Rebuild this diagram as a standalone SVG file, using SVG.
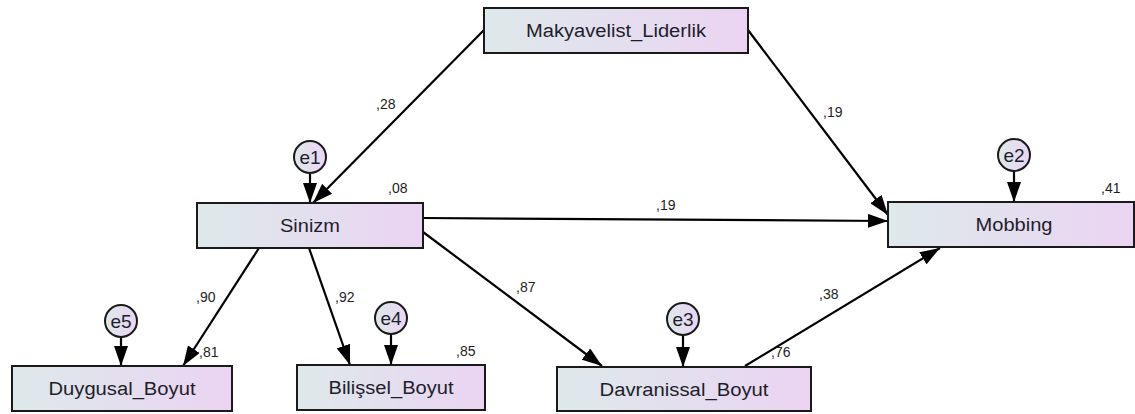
<svg xmlns="http://www.w3.org/2000/svg" width="1135" height="414" viewBox="0 0 1135 414">
<defs>
<linearGradient id="g" x1="0" y1="0" x2="1" y2="0">
<stop offset="0" stop-color="#dde9ea"/>
<stop offset="1" stop-color="#ebd4f3"/>
</linearGradient>
<marker id="ah" markerWidth="20" markerHeight="14" refX="20" refY="7" orient="auto" markerUnits="userSpaceOnUse">
<path d="M0,0 L20,7 L0,14 z" fill="#000"/>
</marker>
</defs>
<style>
.box{fill:url(#g);stroke:#1a1a1a;stroke-width:2}
.err{fill:url(#g);stroke:#1a1a1a;stroke-width:2}
.lbl{font-family:"Liberation Sans",Arial,sans-serif;font-size:18px;fill:#1e1e2a;text-anchor:middle}
.elbl{font-family:"Liberation Sans",Arial,sans-serif;font-size:19px;fill:#1e1e2a;text-anchor:middle}
.num{font-family:"Liberation Sans",Arial,sans-serif;font-size:14px;fill:#1e1e1e}
.c{stroke:#000;stroke-width:2.2;fill:none;marker-end:url(#ah)}
</style>
<rect width="1135" height="414" fill="#fff"/>
<g id="connectors">
<line class="c" x1="484" y1="30" x2="313" y2="203"/>
<line class="c" x1="748" y1="30" x2="888" y2="215"/>
<line class="c" x1="423" y1="218" x2="888" y2="221"/>
<line class="c" x1="259" y1="248" x2="183" y2="366"/>
<line class="c" x1="309" y1="248" x2="350" y2="365"/>
<line class="c" x1="423" y1="232" x2="602" y2="366"/>
<line class="c" x1="745" y1="366" x2="940" y2="248"/>
<line class="c" x1="310" y1="173" x2="310" y2="203"/>
<line class="c" x1="1014" y1="171" x2="1014" y2="202"/>
<line class="c" x1="683" y1="335" x2="683" y2="367"/>
<line class="c" x1="391" y1="334" x2="391" y2="365"/>
<line class="c" x1="121" y1="337" x2="121" y2="366"/>
<text class="num" x="376" y="109">,28</text>
<text class="num" x="823" y="117">,19</text>
<text class="num" x="656" y="210">,19</text>
<text class="num" x="196" y="302">,90</text>
<text class="num" x="335" y="302">,92</text>
<text class="num" x="516" y="292">,87</text>
<text class="num" x="819" y="299">,38</text>
</g>
<g id="makyavelist">
<rect class="box" x="484" y="8" width="264" height="45"/>
<text class="lbl" x="616" y="37" textLength="180" lengthAdjust="spacingAndGlyphs">Makyavelist_Liderlik</text>
</g>
<g id="sinizm">
<rect class="box" x="197" y="203" width="226" height="45"/>
<text class="lbl" x="310" y="232" textLength="60" lengthAdjust="spacingAndGlyphs">Sinizm</text>
<text class="num" x="388" y="193">,08</text>
</g>
<g id="mobbing">
<rect class="box" x="888" y="202" width="246" height="45"/>
<text class="lbl" x="1014" y="231" textLength="77" lengthAdjust="spacingAndGlyphs">Mobbing</text>
<text class="num" x="1101" y="193">,41</text>
</g>
<g id="duygusal">
<rect class="box" x="12" y="366" width="220" height="45"/>
<text class="lbl" x="122" y="395" textLength="147" lengthAdjust="spacingAndGlyphs">Duygusal_Boyut</text>
<text class="num" x="199" y="357">,81</text>
</g>
<g id="bilissel">
<rect class="box" x="297" y="365" width="188" height="45"/>
<text class="lbl" x="391" y="394" textLength="125" lengthAdjust="spacingAndGlyphs">Bilişsel_Boyut</text>
<text class="num" x="456" y="356">,85</text>
</g>
<g id="davranissal">
<rect class="box" x="557" y="367" width="254" height="44"/>
<text class="lbl" x="684" y="396" textLength="169" lengthAdjust="spacingAndGlyphs">Davranissal_Boyut</text>
<text class="num" x="771" y="357">,76</text>
</g>
<g id="e1">
<circle class="err" cx="310" cy="157" r="16"/>
<text class="elbl" x="310" y="164">e1</text>
</g>
<g id="e2">
<circle class="err" cx="1014" cy="155" r="16"/>
<text class="elbl" x="1014" y="162">e2</text>
</g>
<g id="e3">
<circle class="err" cx="683" cy="319" r="16"/>
<text class="elbl" x="683" y="326">e3</text>
</g>
<g id="e4">
<circle class="err" cx="391" cy="318" r="16"/>
<text class="elbl" x="391" y="325">e4</text>
</g>
<g id="e5">
<circle class="err" cx="121" cy="321" r="16"/>
<text class="elbl" x="121" y="328">e5</text>
</g>
</svg>
